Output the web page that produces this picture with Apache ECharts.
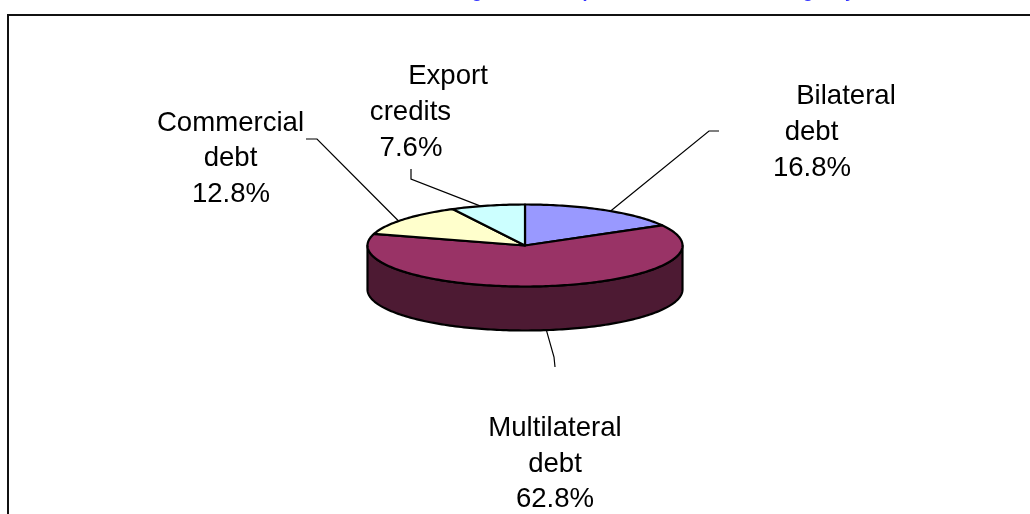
<!DOCTYPE html>
<html>
<head>
<meta charset="utf-8">
<style>
  html, body { margin: 0; padding: 0; background: #fff; overflow: hidden; }
  #main { width: 1030px; height: 514px; }
</style>
<script src="https://cdn.jsdelivr.net/npm/echarts@6/dist/echarts.min.js"></script>
</head>
<body>
<div id="main"></div>
<script>
// data, clockwise from 12 o'clock
const categories = ['Bilateral debt', 'Multilateral debt', 'Commercial debt', 'Export credits'];
const shares = [16.8, 62.8, 12.8, 7.6];

// colours
const topColors = ['#9999ff', '#993366', '#ffffcc', '#ccffff'];
const sideColors = ['#4d4d80', '#4d1a33', '#808066', '#668080'];
const textColor = '#000';

// pie layout
const cx = 525, cy = 245.5, rx = 157.5, ry = 41, depth = 44;

// label layout, [center x, baseline y] per text line
const labelLines = [
  [[846, 105], [811.5, 141], [812, 177]],
  [[555, 437], [555, 473], [555, 508]],
  [[230.5, 132], [230.5, 167], [231, 203]],
  [[448, 85], [410.5, 121], [411, 157]]
];
// leader lines after the point on the pie: elbow, end
const leaders = [
  [[709, 131], [719, 131]],
  [[554, 357], [555, 367]],
  [[317, 139], [306, 139]],
  [[411, 179], [411, 169]]
];
// leader start is a little off the slice middle (radians)
const leaderShift = [0.047, -0.023, -0.052, -0.047];

const total = shares.reduce((a, b) => a + b, 0);

// point on the ellipse, t in radians from 12 o'clock
function ellipsePoint(t, dy) {
  return [cx + rx * Math.sin(t), cy - ry * Math.cos(t) + (dy || 0)];
}

function arcPoints(t0, t1, dy) {
  const n = Math.max(2, Math.ceil(Math.abs(t1 - t0) / 0.02));
  const pts = [];
  for (let i = 0; i <= n; i++) {
    pts.push(ellipsePoint(t0 + (t1 - t0) * i / n, dy));
  }
  return pts;
}

function textLine(str, pos) {
  return {
    type: 'text',
    style: {
      text: str, x: pos[0], y: pos[1] - 9, align: 'center', verticalAlign: 'middle',
      font: '27.6px "Liberation Sans", Arial, sans-serif', fill: textColor
    }
  };
}

function renderSlice(params, api) {
  const i = params.dataIndex;
  const share = api.value(0);
  const before = api.value(1);
  const t0 = before / total * Math.PI * 2;
  const t1 = (before + share) / total * Math.PI * 2;
  const mid = (t0 + t1) / 2;
  const children = [];

  // visible wall is the front half only
  const s0 = Math.max(t0, Math.PI / 2);
  const s1 = Math.min(t1, Math.PI * 1.5);
  if (s1 > s0) {
    const wall = arcPoints(s0, s1, 0).concat(arcPoints(s1, s0, depth));
    children.push({
      type: 'polygon',
      shape: { points: wall },
      style: { fill: sideColors[i], stroke: '#000', lineWidth: 2.2, lineJoin: 'round' }
    });
  }

  children.push({
    type: 'polygon',
    shape: { points: [[cx, cy]].concat(arcPoints(t0, t1, 0)) },
    style: { fill: topColors[i], stroke: '#000', lineWidth: 2.2, lineJoin: 'round' }
  });

  // leader starts near the middle of the slice, on the wall if it faces front
  const facingFront = mid > Math.PI / 2 && mid < Math.PI * 1.5;
  const start = ellipsePoint(mid + leaderShift[i], facingFront ? depth : 0);
  children.push({
    type: 'polyline',
    shape: { points: [start].concat(leaders[i]) },
    style: { fill: null, stroke: '#000', lineWidth: 1.2 }
  });

  // wrapped label, last line is the value
  const words = categories[i].split(' ');
  const lines = words.concat(share.toFixed(1) + '%');
  lines.forEach((str, k) => children.push(textLine(str, labelLines[i][k])));

  return { type: 'group', children: children };
}

let running = 0;
const seriesData = shares.map(v => {
  const row = [v, running];
  running += v;
  return row;
});

const chart = echarts.init(document.getElementById('main'), null, { renderer: 'canvas' });
chart.setOption({
  animation: false,
  backgroundColor: '#fff',
  // frame of the embedded picture, cut off right and below
  graphic: [
    { type: 'polyline', silent: true, shape: { points: [[8, 514], [8, 15], [1030, 15]] },
      style: { fill: null, stroke: '#111', lineWidth: 2 } },
    // title is cut off by the top edge, only these descenders can be read
    ...[['g', 477], ['p', 588], ['g', 808], ['y', 850]].map(d => ({
      type: 'text', silent: true,
      style: { text: d[0], x: d[1], y: -8, align: 'center', verticalAlign: 'middle',
        font: 'bold 18px "Liberation Sans", Arial, sans-serif', fill: '#3333ff' }
    }))
  ],
  series: [{
    type: 'custom',
    coordinateSystem: 'none',
    silent: true,
    renderItem: renderSlice,
    data: seriesData
  }]
});
</script>
</body>
</html>
